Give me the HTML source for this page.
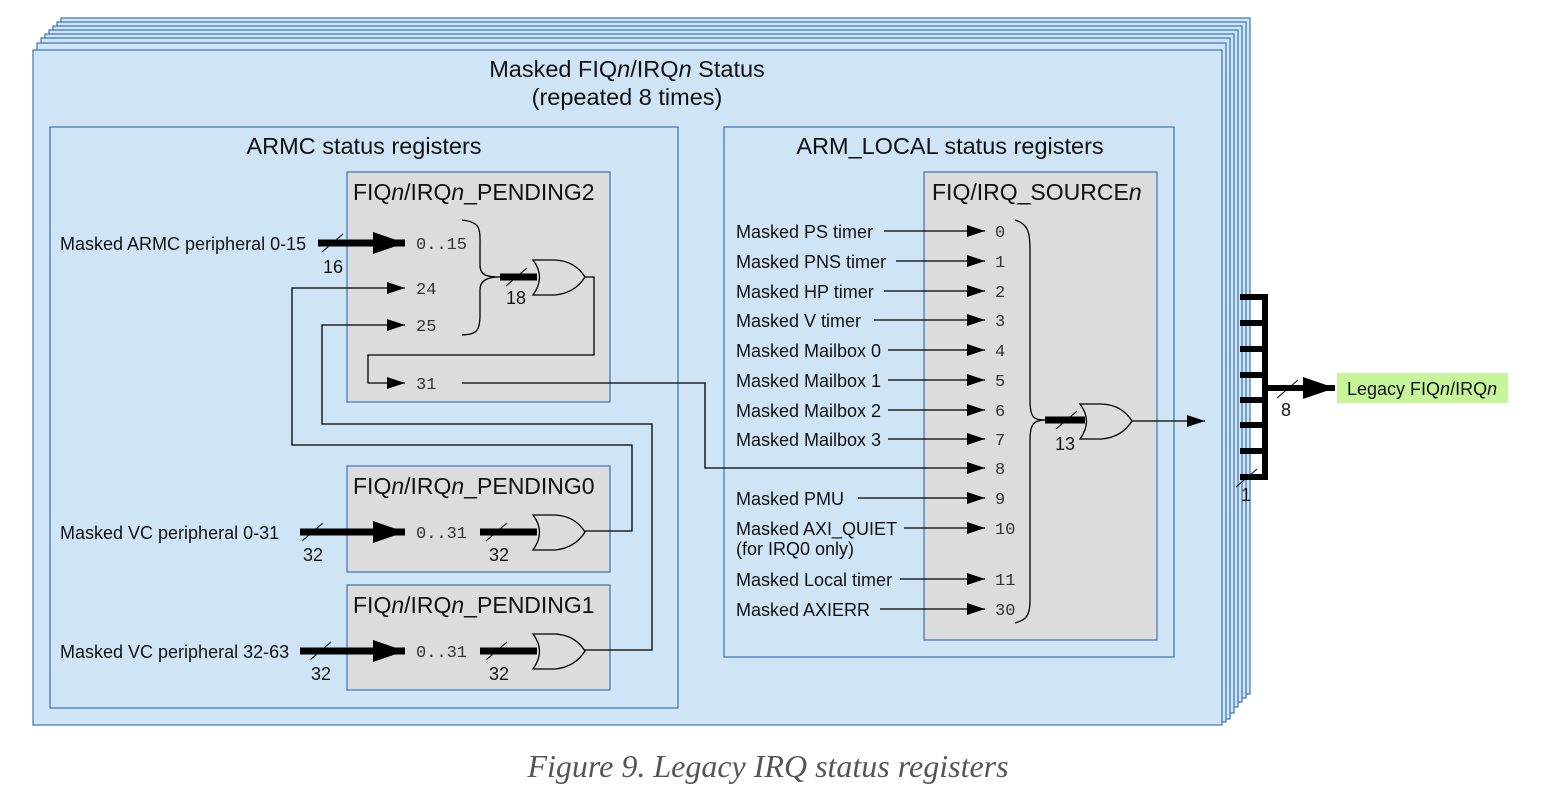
<!DOCTYPE html>
<html><head><style>
body{margin:0;background:#fff;}
svg{display:block;font-family:"Liberation Sans",sans-serif;}
.m{font-family:"Liberation Mono",monospace;font-size:17px;fill:#333}
.l{font-size:18px;fill:#111}
</style></head><body>
<svg width="1550" height="790" viewBox="0 0 1550 790">
<defs>
<marker id="a" markerWidth="18" markerHeight="12" refX="18" refY="6" orient="auto" markerUnits="userSpaceOnUse"><path d="M0,0L18,6L0,12z" fill="#000"/></marker>
<marker id="A" markerWidth="32" markerHeight="22" refX="32" refY="11" orient="auto" markerUnits="userSpaceOnUse"><path d="M0,0L32,11L0,22z" fill="#000"/></marker>
</defs>
<g fill="#cfe5f5" stroke="#3d72b5" stroke-width="1.2">
<rect x="61" y="18" width="1189" height="676"/>
<rect x="57" y="22" width="1189" height="676"/>
<rect x="53" y="26" width="1189" height="676"/>
<rect x="49" y="30" width="1189" height="677"/>
<rect x="45" y="34" width="1189" height="679"/>
<rect x="41" y="38" width="1189" height="681"/>
<rect x="37" y="43" width="1189" height="679"/>
<rect x="33" y="50" width="1189" height="675"/>
<rect x="50" y="127" width="628" height="581"/>
<rect x="724" y="127" width="450" height="530"/>
</g>
<g fill="#dcdcdc" stroke="#3d72b5" stroke-width="1.2">
<rect x="347" y="172" width="263" height="230"/>
<rect x="347" y="466" width="263" height="106"/>
<rect x="347" y="585" width="263" height="105"/>
<rect x="924" y="172" width="233" height="468"/>
</g>
<g font-size="23.5" fill="#111" text-anchor="middle">
<text x="627" y="77">Masked FIQ<tspan font-style="italic">n</tspan>/IRQ<tspan font-style="italic">n</tspan> Status</text>
<text x="627" y="105">(repeated 8 times)</text>
<text x="364" y="154">ARMC status registers</text>
<text x="950" y="154">ARM_LOCAL status registers</text>
</g>
<g font-size="23" fill="#111">
<text x="353" y="200">FIQ<tspan font-style="italic">n</tspan>/IRQ<tspan font-style="italic">n</tspan>_PENDING2</text>
<text x="353" y="494">FIQ<tspan font-style="italic">n</tspan>/IRQ<tspan font-style="italic">n</tspan>_PENDING0</text>
<text x="353" y="613">FIQ<tspan font-style="italic">n</tspan>/IRQ<tspan font-style="italic">n</tspan>_PENDING1</text>
<text x="932" y="200">FIQ/IRQ_SOURCE<tspan font-style="italic">n</tspan></text>
</g>
<g class="l">
<text x="60" y="250">Masked ARMC peripheral 0-15</text>
<text x="60" y="539">Masked VC peripheral 0-31</text>
<text x="60" y="658">Masked VC peripheral 32-63</text>
</g>
<g stroke="#000" fill="none">
<line x1="318" y1="243" x2="405" y2="243" stroke-width="7" marker-end="url(#A)"/>
<line x1="300" y1="532" x2="405" y2="532" stroke-width="7" marker-end="url(#A)"/>
<line x1="300" y1="651" x2="405" y2="651" stroke-width="7" marker-end="url(#A)"/>
<line x1="322" y1="252" x2="343" y2="234" stroke-width="1"/>
<line x1="302" y1="541" x2="323" y2="523" stroke-width="1"/>
<line x1="310" y1="660" x2="331" y2="642" stroke-width="1"/>
<g stroke-width="1.3">
<polyline points="585,531 632,531 632,445 292,445 292,288 405,288" marker-end="url(#a)"/>
<polyline points="585,650 652,650 652,424 322,424 322,325 405,325" marker-end="url(#a)"/>
<polyline points="585,277 594,277 594,355 368,355 368,383 405,383" marker-end="url(#a)"/>
<polyline points="462,383 705,383 705,468 985,468" marker-end="url(#a)"/>
<path d="M462,220 C482,222 480,230 480,250 L480,265 C480,276 488,277 500,277 C488,277 480,280 480,290 L480,315 C480,332 476,334 462,335"/>
<path d="M1015,220 C1028,224 1030,232 1030,250 L1030,400 C1030,418 1034,420 1045,420 C1034,420 1030,424 1030,440 L1030,600 C1030,616 1026,620 1015,623"/>
<line x1="1132" y1="421" x2="1205" y2="421" marker-end="url(#a)"/>
</g>
<line x1="500" y1="277" x2="537" y2="277" stroke-width="7"/>
<line x1="480" y1="532" x2="537" y2="532" stroke-width="7"/>
<line x1="480" y1="651" x2="537" y2="651" stroke-width="7"/>
<line x1="1045" y1="420" x2="1085" y2="420" stroke-width="7"/>
<line x1="506" y1="286" x2="527" y2="268" stroke-width="1"/>
<line x1="486" y1="541" x2="507" y2="523" stroke-width="1"/>
<line x1="486" y1="660" x2="507" y2="642" stroke-width="1"/>
<line x1="1056" y1="429" x2="1077" y2="411" stroke-width="1"/>
<g stroke-width="1.3" fill="#dcdcdc">
<path d="M533,260 Q546,277 533,295 L555,295 Q575,293 585,277 Q575,261 555,260 Z"/>
<path d="M533,515 Q546,532 533,550 L555,550 Q575,548 585,532 Q575,516 555,515 Z"/>
<path d="M533,634 Q546,651 533,669 L555,669 Q575,667 585,651 Q575,635 555,634 Z"/>
<path d="M1080,404 Q1093,421 1080,439 L1102,439 Q1122,437 1132,421 Q1122,405 1102,404 Z"/>
</g>
<g stroke-width="6">
<polyline points="1240,297 1265,297 1265,477 1240,477"/>
<line x1="1240" y1="323" x2="1265" y2="323"/>
<line x1="1240" y1="349" x2="1265" y2="349"/>
<line x1="1240" y1="375" x2="1265" y2="375"/>
<line x1="1240" y1="400" x2="1265" y2="400"/>
<line x1="1240" y1="425" x2="1265" y2="425"/>
<line x1="1240" y1="451" x2="1265" y2="451"/>
<line x1="1265" y1="388" x2="1335" y2="388" marker-end="url(#A)"/>
</g>
<line x1="1277" y1="398" x2="1298" y2="380" stroke-width="1"/>
<line x1="1236" y1="487" x2="1257" y2="469" stroke-width="1"/>
</g>
<g font-size="18" fill="#111">
<text x="323" y="273">16</text>
<text x="303" y="561">32</text>
<text x="311" y="680">32</text>
<text x="506" y="304">18</text>
<text x="489" y="561">32</text>
<text x="489" y="680">32</text>
<text x="1055" y="450">13</text>
<text x="1281" y="416">8</text>
<text x="1241" y="501">1</text>
</g>
<g class="m">
<text x="416" y="249">0..15</text>
<text x="416" y="294">24</text>
<text x="416" y="331">25</text>
<text x="416" y="389">31</text>
<text x="416" y="538">0..31</text>
<text x="416" y="657">0..31</text>
</g>
<g stroke="#000" stroke-width="1.3" marker-end="url(#a)">
<line x1="884" y1="231" x2="985" y2="231"/>
<line x1="896" y1="261" x2="985" y2="261"/>
<line x1="884" y1="291" x2="985" y2="291"/>
<line x1="874" y1="320" x2="985" y2="320"/>
<line x1="888" y1="350" x2="985" y2="350"/>
<line x1="888" y1="380" x2="985" y2="380"/>
<line x1="888" y1="410" x2="985" y2="410"/>
<line x1="888" y1="439" x2="985" y2="439"/>
<line x1="858" y1="498" x2="985" y2="498"/>
<line x1="904" y1="528" x2="985" y2="528"/>
<line x1="900" y1="579" x2="985" y2="579"/>
<line x1="880" y1="609" x2="985" y2="609"/>
</g>
<g class="l">
<text x="736" y="238">Masked PS timer</text>
<text x="736" y="268">Masked PNS timer</text>
<text x="736" y="298">Masked HP timer</text>
<text x="736" y="327">Masked V timer</text>
<text x="736" y="357">Masked Mailbox 0</text>
<text x="736" y="387">Masked Mailbox 1</text>
<text x="736" y="417">Masked Mailbox 2</text>
<text x="736" y="446">Masked Mailbox 3</text>
<text x="736" y="505">Masked PMU</text>
<text x="736" y="535">Masked AXI_QUIET</text>
<text x="736" y="555">(for IRQ0 only)</text>
<text x="736" y="586">Masked Local timer</text>
<text x="736" y="616">Masked AXIERR</text>
</g>
<g class="m">
<text x="995" y="237">0</text><text x="995" y="267">1</text><text x="995" y="297">2</text>
<text x="995" y="326">3</text><text x="995" y="356">4</text><text x="995" y="386">5</text>
<text x="995" y="416">6</text><text x="995" y="445">7</text><text x="995" y="474">8</text>
<text x="995" y="504">9</text><text x="995" y="534">10</text><text x="995" y="585">11</text>
<text x="995" y="615">30</text>
</g>
<rect x="1337" y="373" width="171" height="30" fill="#c6f59a"/>
<text x="1347" y="395" font-size="18" fill="#111">Legacy FIQ<tspan font-style="italic">n</tspan>/IRQ<tspan font-style="italic">n</tspan></text>
<text x="768" y="777" text-anchor="middle" font-family="Liberation Serif,serif" font-style="italic" font-size="32" fill="#555">Figure 9. Legacy IRQ status registers</text>
</svg>
</body></html>
